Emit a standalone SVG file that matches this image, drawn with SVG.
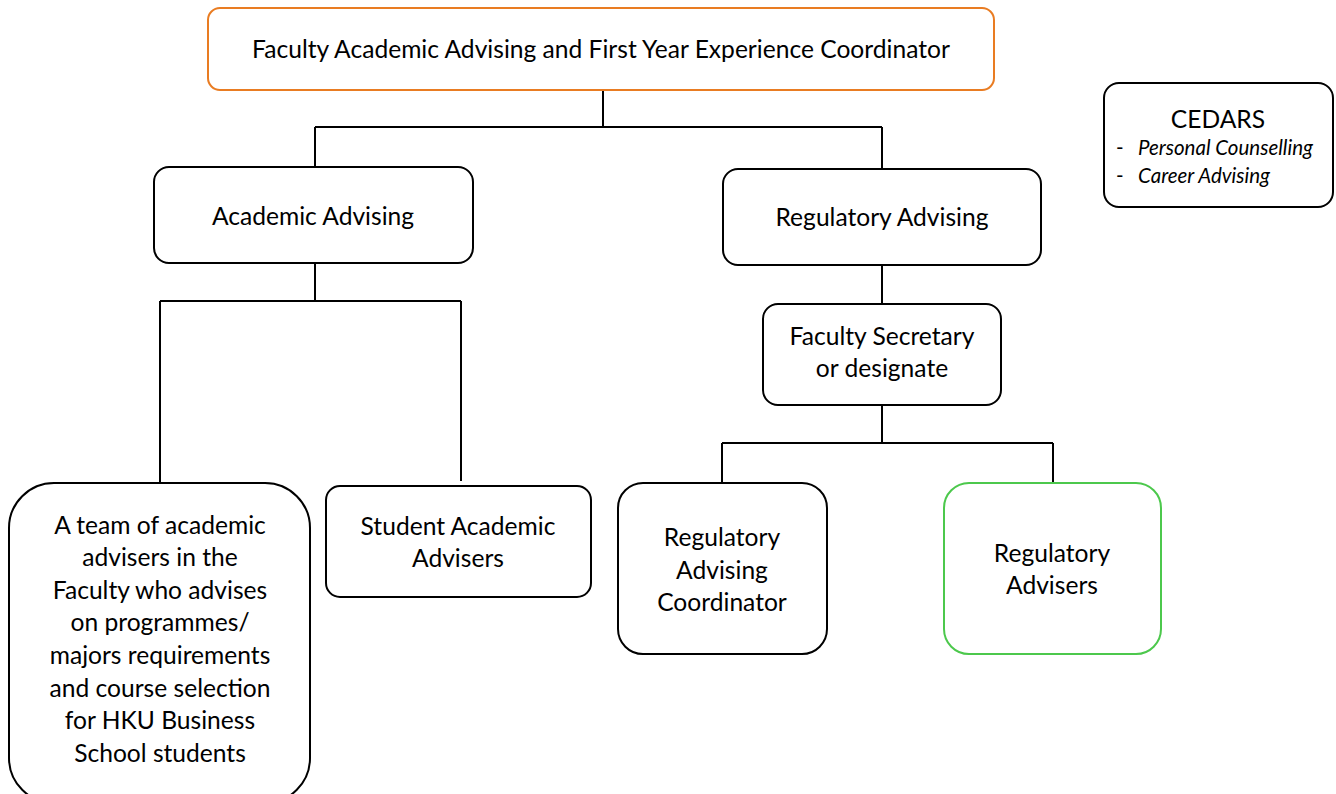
<svg xmlns="http://www.w3.org/2000/svg" width="1336" height="794" viewBox="0 0 1336 794">
<style>
.box{fill:#fff;stroke:#000;stroke-width:2}
.t{font-family:Lato,"Open Sans","Liberation Sans",sans-serif;font-size:24.6px;fill:#000;text-anchor:middle}
.s{font-family:Lato,"Open Sans","Liberation Sans",sans-serif;font-size:20.5px;fill:#000}
.conn{fill:none;stroke:#000;stroke-width:2}
</style>
<rect width="1336" height="794" fill="#fff"/>
<g id="connectors">
<path class="conn" d="M603,90V127M315,127H882M315,127V167M882,127V169"/>
<path class="conn" d="M315,263V301M160,301H461M160,301V483M461,301V481"/>
<path class="conn" d="M882,265V304"/>
<path class="conn" d="M882,405V443M722,443H1053M722,443V483M1053,443V483"/>
</g>
<g id="coordinator">
<rect x="208" y="8" width="786" height="82" rx="12" fill="#fff" stroke="#E97C22" stroke-width="2"/>
<text class="t" x="601" y="58">Faculty Academic Advising and First Year Experience Coordinator</text>
</g>
<g id="academic-advising">
<rect class="box" x="154" y="167" width="319" height="96" rx="15"/>
<text class="t" x="313" y="225">Academic Advising</text>
</g>
<g id="regulatory-advising">
<rect class="box" x="723" y="169" width="318" height="96" rx="15"/>
<text class="t" x="882" y="226">Regulatory Advising</text>
</g>
<g id="cedars">
<rect class="box" x="1104" y="83" width="229" height="124" rx="15"/>
<text class="t" x="1218" y="128">CEDARS</text>
<text class="s" x="1116" y="155">-</text>
<text class="s" x="1138" y="155" font-style="italic">Personal Counselling</text>
<text class="s" x="1116" y="183">-</text>
<text class="s" x="1138" y="183" font-style="italic">Career Advising</text>
</g>
<g id="team">
<rect class="box" x="9" y="483" width="301" height="320" rx="45"/>
<text class="t" x="160" y="534">A team of academic</text>
<text class="t" x="160" y="566">advisers in the</text>
<text class="t" x="160" y="599">Faculty who advises</text>
<text class="t" x="160" y="631">on programmes/</text>
<text class="t" x="160" y="664">majors requirements</text>
<text class="t" x="160" y="697">and course selection</text>
<text class="t" x="160" y="729">for HKU Business</text>
<text class="t" x="160" y="762">School students</text>
</g>
<g id="student-advisers">
<rect class="box" x="326" y="486" width="265" height="111" rx="14"/>
<text class="t" x="458" y="535">Student Academic</text>
<text class="t" x="458" y="567">Advisers</text>
</g>
<g id="faculty-secretary">
<rect class="box" x="763" y="304" width="238" height="101" rx="15"/>
<text class="t" x="882" y="345">Faculty Secretary</text>
<text class="t" x="882" y="377">or designate</text>
</g>
<g id="ra-coordinator">
<rect class="box" x="618" y="483" width="209" height="171" rx="25"/>
<text class="t" x="722" y="546">Regulatory</text>
<text class="t" x="722" y="579">Advising</text>
<text class="t" x="722" y="611">Coordinator</text>
</g>
<g id="regulatory-advisers">
<rect x="944" y="483" width="217" height="171" rx="25" fill="#fff" stroke="#4CC84C" stroke-width="2"/>
<text class="t" x="1052" y="562">Regulatory</text>
<text class="t" x="1052" y="594">Advisers</text>
</g>
</svg>
